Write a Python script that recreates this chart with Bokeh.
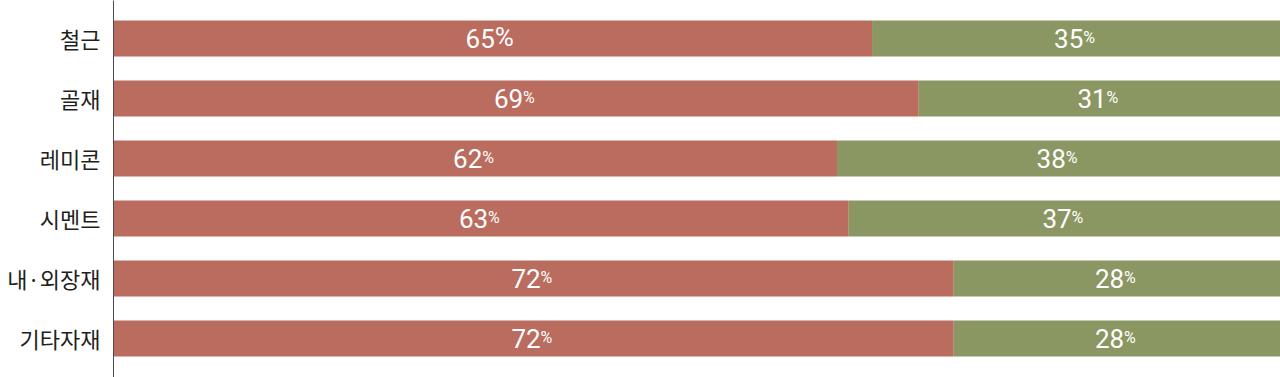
from bokeh.plotting import figure
from bokeh.models import ColumnDataSource, Range1d, FixedTicker
from bokeh.core.properties import value
from bokeh.embed import file_html
from bokeh.resources import INLINE

categories = ["철근", "골재", "레미콘", "시멘트", "내·외장재", "기타자재"]
domestic = [65, 69, 62, 63, 72, 72]
imported = [35, 31, 38, 37, 28, 28]

RED = "#BA6C5E"
GREEN = "#8A9762"

ys = list(range(len(categories)))
totals = [d + i for d, i in zip(domestic, imported)]
# the first red label in the original has a full-size percent sign
big_pct = [i == 0 for i in ys]
src = ColumnDataSource(dict(
    y=ys,
    dom=domestic,
    imp=imported,
    total=totals,
    dom_c=[d / 2 for d in domestic],
    imp_c=[d + i / 2 for d, i in zip(domestic, imported)],
    dom_t=[str(d) for d in domestic],
    imp_t=[str(i) for i in imported],
    pct=["%"] * len(ys),
    dom_pct_size=["26px" if b else "16px" for b in big_pct],
    dom_off=[2 if b else 7 for b in big_pct],
))

p = figure(width=1280, height=377, output_backend="svg", toolbar_location=None,
           x_range=Range1d(0, 100), y_range=Range1d(5.65, -0.6333),
           x_axis_location=None, min_border_left=113, min_border_right=0,
           min_border_top=0, min_border_bottom=0)
p.outline_line_color = None
p.grid.visible = False
p.background_fill_color = "white"

p.hbar(y="y", left=0, right="dom", height=0.6, source=src, fill_color=RED, line_color=None)
p.hbar(y="y", left="dom", right="total", height=0.6, source=src, fill_color=GREEN, line_color=None)

num_font = value("Roboto")
# domestic (red) labels
p.text(x="dom_c", y="y", text="dom_t", source=src, text_font=num_font, text_font_size="26px",
       text_color="white", text_align="right", text_baseline="alphabetic",
       x_offset="dom_off", y_offset=0)
p.text(x="dom_c", y="y", text="pct", source=src, text_font=num_font, text_font_size="dom_pct_size",
       text_color="white", text_align="left", text_baseline="alphabetic",
       x_offset="dom_off", y_offset=-1)
# imported (green) labels
p.text(x="imp_c", y="y", text="imp_t", source=src, text_font=num_font, text_font_size="26px",
       text_color="white", text_align="right", text_baseline="alphabetic",
       x_offset=7, y_offset=0)
p.text(x="imp_c", y="y", text="pct", source=src, text_font=num_font, text_font_size="16px",
       text_color="white", text_align="left", text_baseline="alphabetic",
       x_offset=7, y_offset=-1)

ax = p.yaxis[0]
ax.ticker = FixedTicker(ticks=ys)
ax.major_label_overrides = {y: c for y, c in zip(ys, categories)}
ax.major_label_text_font = "Noto Sans CJK KR"
ax.major_label_text_font_size = "22px"
ax.major_label_text_color = "#231f20"
ax.major_label_standoff = 7
ax.major_tick_line_color = None
ax.minor_tick_line_color = None
ax.axis_line_color = "#4a4a4a"
ax.axis_line_width = 1

open("out.html", "w").write(file_html(p, INLINE))
